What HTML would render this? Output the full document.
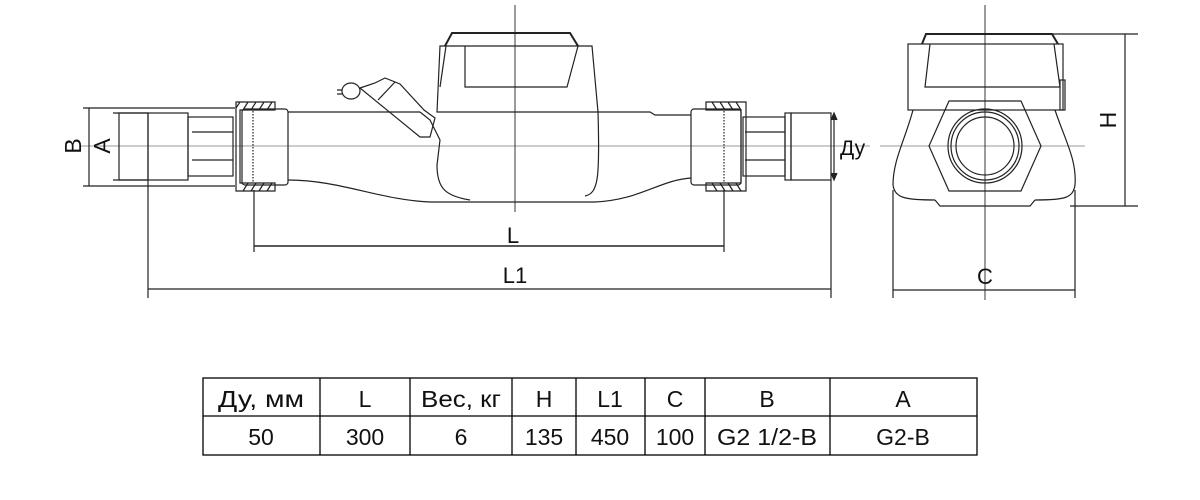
<!DOCTYPE html>
<html><head><meta charset="utf-8"><style>
body{margin:0;background:#fff;width:1200px;height:500px;overflow:hidden}
svg{position:absolute;left:0;top:0}
text{font-family:"Liberation Sans",sans-serif;fill:#111}
.t{font-family:"Liberation Sans",sans-serif;font-size:23px}
</style></head><body>
<svg width="1200" height="500" viewBox="0 0 1200 500" fill="none" stroke="#222" stroke-width="1.2">
<line x1="80" y1="146" x2="870" y2="146" stroke="#777" stroke-width="0.8"/>
<line x1="880" y1="146" x2="1085" y2="146" stroke="#777" stroke-width="0.8"/>
<line x1="515" y1="5" x2="515" y2="212" stroke-width="0.9"/>
<line x1="985" y1="5" x2="985" y2="300" stroke-width="0.9"/>
<line x1="83" y1="108" x2="235" y2="108"/><line x1="83" y1="186" x2="235" y2="186"/>
<line x1="89" y1="108" x2="89" y2="186"/>
<line x1="113" y1="113" x2="148" y2="113"/><line x1="113" y1="180" x2="148" y2="180"/>
<rect x="119" y="113" width="29" height="67"/>
<rect x="148" y="113" width="40" height="67"/>
<rect x="188" y="117" width="45" height="59"/>
<line x1="192" y1="132" x2="233" y2="132"/><line x1="192" y1="160" x2="233" y2="160"/>
<path d="M236 102 H275 V110 H240 V183 H275 V191 H236 Z"/>
<path d="M240 102 l-4 6 M248 102 l-5 8 M256 102 l-5 8 M264 102 l-5 8 M272 102 l-5 8 M248 183 l-5 8 M256 183 l-5 8 M264 183 l-5 8 M272 183 l-5 8"/>
<rect x="242" y="109" width="46" height="76" rx="3"/>
<line x1="253" y1="111" x2="253" y2="183" stroke-dasharray="1.5 1.5"/>
<path d="M746 102 H706 V110 H741 V183 H706 V191 H746 Z"/>
<path d="M712 102 l5 8 M720 102 l5 8 M728 102 l5 8 M736 102 l5 8 M712 183 l5 8 M720 183 l5 8 M728 183 l5 8 M736 183 l5 8"/>
<rect x="691" y="109" width="50" height="76" rx="3"/>
<line x1="724" y1="111" x2="724" y2="183" stroke-dasharray="1.5 1.5"/>
<rect x="743" y="117" width="42" height="59"/>
<line x1="745" y1="132" x2="785" y2="132"/><line x1="745" y1="160" x2="785" y2="160"/>
<rect x="785" y="113" width="6" height="67"/>
<rect x="791" y="113" width="40" height="67"/>
<path d="M288 112 H420 M288 180 C340 180 380 200 430 202 L595 202 C640 200 660 180 691 178 M598 112 L650 112 L655 115 L691 115"/>
<path d="M420 112 L430 120 L440 140 L437 165 C437 188 445 196 470 200 M585 196 C598 193 600 180 598 112"/>
<path d="M445 46 L452 33 H570 L578 46" stroke-width="2"/>
<path d="M440 46 H592 L598 112 H437 Z"/>
<path d="M465 46 V87 H567 L578 46"/>
<path d="M446 46 L440 87"/>
<ellipse cx="351" cy="91" rx="9" ry="8"/>
<path d="M342 90 h-5 M342 94 h-5 M360 88 L375 83 L385 78 L400 84 L424 110 L435 118 L430 137 L420 137 Z M378 100 L395 82"/>
<line x1="148" y1="180" x2="148" y2="298"/>
<line x1="831" y1="180" x2="831" y2="298"/>
<line x1="254" y1="190" x2="254" y2="252"/>
<line x1="724" y1="190" x2="724" y2="252"/>
<line x1="254" y1="246" x2="724" y2="246" stroke-width="1.5"/>
<line x1="148" y1="289" x2="831" y2="289"/>
<line x1="834" y1="114" x2="834" y2="179"/>
<path d="M831 120 l3 -7 l3 7 M831 173 l3 7 l3 -7" fill="#222"/>
<path d="M922 44 L926 34 H1052 L1058 44" stroke-width="2"/>
<rect x="908" y="44" width="155" height="66"/>
<path d="M930 44 L925 87 H1060 L1054 44"/>
<rect x="1060" y="80" width="5" height="30"/>
<path d="M913 110 C905 140 893 160 893 185 C895 198 905 200 935 200 M1055 110 C1065 140 1077 160 1075 185 C1073 198 1065 200 1035 200"/>
<path d="M935 200 L940 206 H1030 L1035 200"/>
<path d="M949 101 H1021 L1041 146 L1021 191 H949 L929 146 Z"/>
<circle cx="985" cy="146" r="37"/><circle cx="985" cy="146" r="34"/><circle cx="985" cy="146" r="29"/>
<line x1="1040" y1="34" x2="1138" y2="34"/><line x1="1070" y1="206" x2="1138" y2="206"/>
<line x1="1125" y1="34" x2="1125" y2="206"/>
<line x1="893" y1="190" x2="893" y2="298"/><line x1="1075" y1="190" x2="1075" y2="298"/>
<line x1="893" y1="290" x2="1075" y2="290"/>
<g stroke="#000" stroke-width="1.3">
<rect x="203" y="378" width="774" height="77"/>
<line x1="203" y1="416" x2="977" y2="416"/>
<line x1="320" y1="378" x2="320" y2="455"/><line x1="410" y1="378" x2="410" y2="455"/>
<line x1="512" y1="378" x2="512" y2="455"/><line x1="576" y1="378" x2="576" y2="455"/>
<line x1="645" y1="378" x2="645" y2="455"/><line x1="705" y1="378" x2="705" y2="455"/>
<line x1="830" y1="378" x2="830" y2="455"/>
</g>
</svg>
<svg width="1200" height="500" viewBox="0 0 1200 500">
<text x="75" y="146" font-size="23" transform="rotate(-90 75 146)" text-anchor="middle" dominant-baseline="middle">B</text>
<text x="104" y="146" font-size="23" transform="rotate(-90 104 146)" text-anchor="middle" dominant-baseline="middle">A</text>
<text x="840" y="155" font-size="21">Ду</text>
<text x="513" y="243" font-size="22" text-anchor="middle">L</text>
<text x="515" y="283" font-size="22" text-anchor="middle">L1</text>
<text x="985" y="284" font-size="22" text-anchor="middle">C</text>
<text x="1110" y="120" font-size="23" transform="rotate(-90 1110 120)" text-anchor="middle" dominant-baseline="middle">H</text>
<g text-anchor="middle">
<text class="t" x="261" y="407" textLength="86" lengthAdjust="spacingAndGlyphs">Ду, мм</text>
<text class="t" x="365" y="407">L</text>
<text class="t" x="461" y="407" textLength="80" lengthAdjust="spacingAndGlyphs">Вес, кг</text>
<text class="t" x="544" y="407">H</text>
<text class="t" x="610" y="407">L1</text>
<text class="t" x="675" y="407">C</text>
<text class="t" x="767" y="407">B</text>
<text class="t" x="903" y="407">A</text>
<text class="t" x="261" y="445">50</text>
<text class="t" x="365" y="445">300</text>
<text class="t" x="461" y="445">6</text>
<text class="t" x="544" y="445">135</text>
<text class="t" x="610" y="445">450</text>
<text class="t" x="675" y="445">100</text>
<text class="t" x="767" y="445" textLength="100" lengthAdjust="spacingAndGlyphs">G2 1/2-B</text>
<text class="t" x="903" y="445">G2-B</text>
</g>
</svg>
</body></html>
